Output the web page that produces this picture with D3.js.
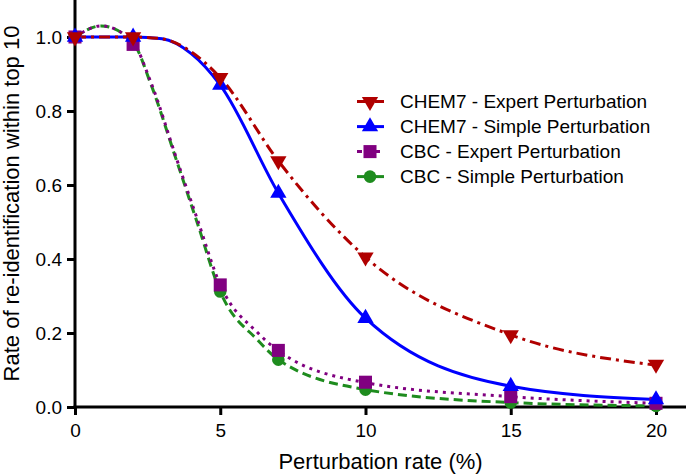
<!DOCTYPE html>
<html><head><meta charset="utf-8">
<script src="https://cdn.jsdelivr.net/npm/d3@7"></script>
<style>
html,body{margin:0;padding:0;background:#fff;}
svg{display:block;font-family:"Liberation Sans",Arial,sans-serif;}
</style></head>
<body><svg id="c" width="686" height="476"></svg>
<script>
// ---- data ----
const xValues = [0, 2, 5, 7, 10, 15, 20];
const chem7Expert = [1.0, 1.0, 0.89, 0.665, 0.405, 0.195, 0.115];
const chem7Simple = [1.0, 1.0, 0.87, 0.578, 0.24, 0.056, 0.02];
const cbcExpert   = [1.0, 0.98, 0.33, 0.153, 0.067, 0.028, 0.01];
const cbcSimple   = [1.0, 0.99, 0.312, 0.128, 0.047, 0.012, 0.003];
// fitted curves
const chem7ExpertFitX = [0, 2, 3, 4, 5, 7, 10, 15, 20];
const chem7ExpertFitY = [1.0, 1.0, 0.995, 0.96, 0.89, 0.665, 0.405, 0.195, 0.113];
const chem7SimpleFitX = [0, 2, 3, 4, 5, 7, 10, 15, 20];
const chem7SimpleFitY = [1.0, 1.0, 0.995, 0.955, 0.87, 0.578, 0.24, 0.056, 0.02];
const cbcExpertFitX = [0, 0.9, 2, 2.6, 3.5, 4.2, 5, 6.3, 7, 10, 15, 20];
const cbcExpertFitY = [1.0, 1.03, 0.985, 0.88, 0.67, 0.51, 0.33, 0.2, 0.152, 0.066, 0.028, 0.01];
const cbcSimpleFitX = [0, 0.9, 2, 2.6, 3.5, 4.2, 5, 6.3, 7, 10, 15, 20];
const cbcSimpleFitY = [1.0, 1.03, 0.985, 0.875, 0.665, 0.5, 0.312, 0.18, 0.128, 0.047, 0.012, 0.003];
const xTicks = [0, 5, 10, 15, 20];
const yTicks = [0, 0.2, 0.4, 0.6, 0.8, 1.0];
const seriesNames = ["CHEM7 - Expert Perturbation", "CHEM7 - Simple Perturbation", "CBC - Expert Perturbation", "CBC - Simple Perturbation"];

const series = [
  {name: seriesNames[3], vals: cbcSimple, fx: cbcSimpleFitX, fy: cbcSimpleFitY, color: "#1e8c1e", dash: "9,5", ldash: null, sym: d3.symbolCircle, size: 125, rot: 0},
  {name: seriesNames[2], vals: cbcExpert, fx: cbcExpertFitX, fy: cbcExpertFitY, color: "#800080", dash: "3,5", ldash: "5,4", sym: d3.symbolSquare, size: 170, rot: 0},
  {name: seriesNames[1], vals: chem7Simple, fx: chem7SimpleFitX, fy: chem7SimpleFitY, color: "#0000ff", dash: null, ldash: null, sym: d3.symbolTriangle, size: 115, rot: 0},
  {name: seriesNames[0], vals: chem7Expert, fx: chem7ExpertFitX, fy: chem7ExpertFitY, color: "#b00000", dash: "11,5,3,5", ldash: "9,3,3,3", sym: d3.symbolTriangle, size: 115, rot: 180}
];

const svg = d3.select("#c");
const x = d3.scaleLinear().domain([0, 20]).range([75, 656]);
const y = d3.scaleLinear().domain([0, 1]).range([407, 37]);
const FONT = "'Liberation Sans', Arial, sans-serif";

// axes
const gx = svg.append("g").attr("transform", `translate(0,${y(0)})`)
  .call(d3.axisBottom(x).tickValues(xTicks).tickSize(8).tickSizeOuter(0).tickPadding(4));
const gy = svg.append("g").attr("transform", `translate(${x(0)},0)`)
  .call(d3.axisLeft(y).tickValues(yTicks).tickFormat(d3.format(".1f")).tickSize(8).tickSizeOuter(0).tickPadding(5));
[gx, gy].forEach(g => {
  g.select(".domain").remove();
  g.selectAll(".tick line").attr("stroke", "#000").attr("stroke-width", 3);
  g.selectAll(".tick text").attr("fill", "#000").style("font-size", "19px").style("font-family", FONT);
});
gy.selectAll(".tick text").attr("dy", "0.36em");
gx.selectAll(".tick text").attr("y", 30).attr("dy", null);
svg.append("line").attr("x1", x(0)).attr("x2", x(0)).attr("y1", y(1.1)).attr("y2", y(0) + 1.5)
  .attr("stroke", "#000").attr("stroke-width", 3);
svg.append("line").attr("x1", x(0) - 1.5).attr("x2", x(21.2)).attr("y1", y(0)).attr("y2", y(0))
  .attr("stroke", "#000").attr("stroke-width", 3);

// titles
svg.append("text").attr("x", (x(0) + 686) / 2).attr("y", 469).attr("text-anchor", "middle")
  .style("font-size", "22px").style("font-family", FONT).text("Perturbation rate (%)");
svg.append("text").attr("transform", `translate(19,${y(0) / 2}) rotate(-90)`).attr("text-anchor", "middle")
  .style("font-size", "22px").style("font-family", FONT).text("Rate of re-identification within top 10");

// curves
const line = d3.line().curve(d3.curveMonotoneX);
series.forEach(s => {
  const pts = s.fx.map((v, i) => [x(v), y(s.fy[i])]);
  svg.append("path").attr("d", line(pts)).attr("fill", "none").attr("stroke", s.color)
    .attr("stroke-width", 3).attr("stroke-dasharray", s.dash);
});
// markers
series.forEach(s => {
  const sym = d3.symbol().type(s.sym).size(s.size);
  svg.append("g").selectAll("path").data(s.vals).join("path")
    .attr("d", sym)
    .attr("transform", (d, i) => `translate(${x(xValues[i])},${y(d)}) rotate(${s.rot})`)
    .attr("fill", s.color);
});

// legend
const legendRows = [series[3], series[2], series[1], series[0]];
const lg = svg.append("g");
legendRows.forEach((s, i) => {
  const yy = 101.6 + i * 25;
  lg.append("line").attr("x1", 357).attr("x2", 384).attr("y1", yy).attr("y2", yy)
    .attr("stroke", s.color).attr("stroke-width", 3).attr("stroke-dasharray", s.ldash);
  lg.append("path").attr("d", d3.symbol().type(s.sym).size(s.size)())
    .attr("transform", `translate(370,${yy}) rotate(${s.rot})`).attr("fill", s.color);
  lg.append("text").attr("x", 400).attr("y", yy).attr("dy", "0.36em")
    .style("font-size", "19px").style("font-family", FONT).text(s.name);
});
</script></body></html>
